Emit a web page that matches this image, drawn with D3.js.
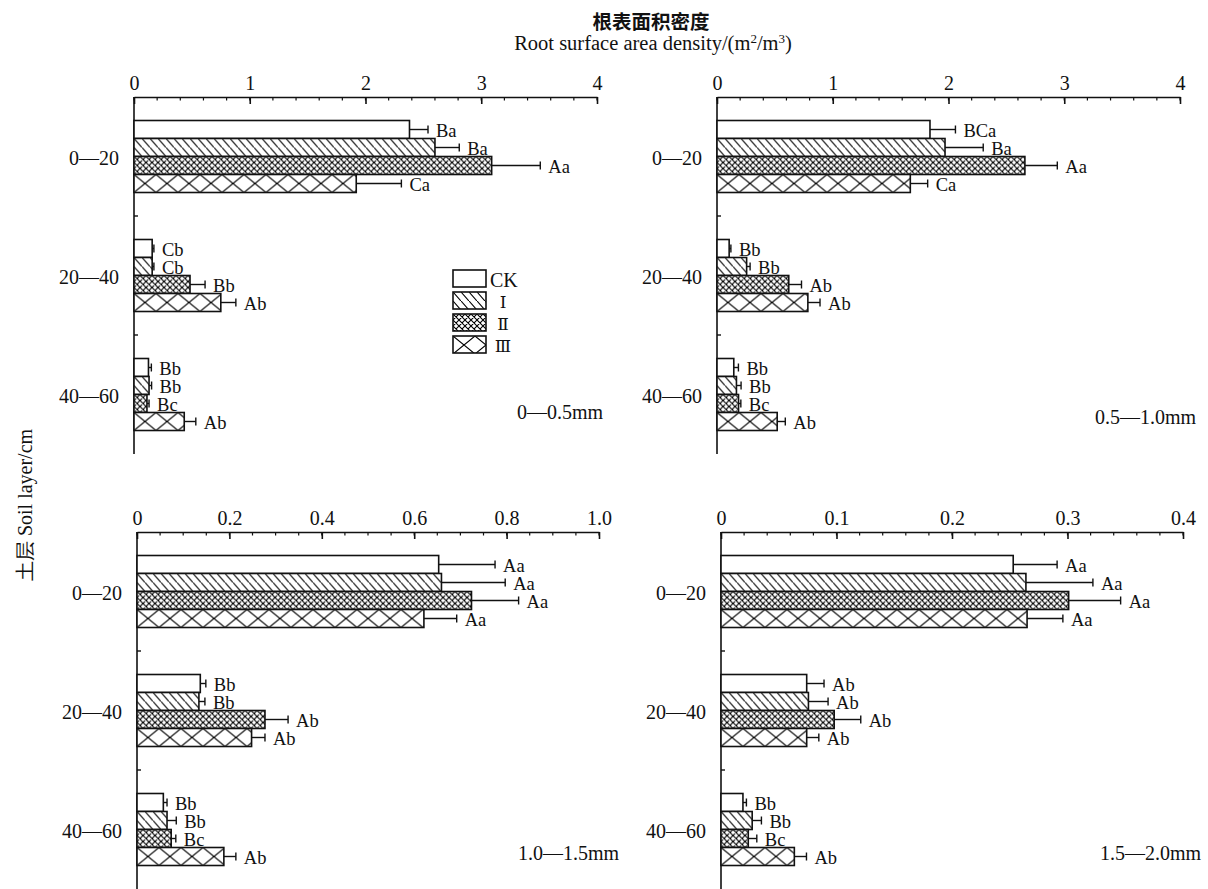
<!DOCTYPE html>
<html><head><meta charset="utf-8">
<script src="https://cdn.jsdelivr.net/npm/d3@7/dist/d3.min.js"></script>
<style>body{margin:0;background:#fff}svg{display:block}</style>
</head><body>
<svg id="chart" width="1208" height="889"></svg>
<script>
// ---------- DATA ----------
const categories = ["0—20", "20—40", "40—60"];
const series = ["CK", "Ⅰ", "Ⅱ", "Ⅲ"];
const panelTitles = ["0—0.5mm", "0.5—1.0mm", "1.0—1.5mm", "1.5—2.0mm"];

// panel 1: 0—0.5mm  (rows: CK, I, II, III ; cols: 0-20, 20-40, 40-60)
const values1 = [[2.38, 0.157, 0.125], [2.60, 0.157, 0.130], [3.09, 0.484, 0.112], [1.92, 0.750, 0.434]];
const errors1 = [[0.16, 0.015, 0.025], [0.21, 0.015, 0.022], [0.42, 0.130, 0.018], [0.39, 0.130, 0.100]];
const letters1 = [["Ba", "Cb", "Bb"], ["Ba", "Cb", "Bb"], ["Aa", "Bb", "Bc"], ["Ca", "Ab", "Ab"]];

// panel 2: 0.5—1.0mm
const values2 = [[1.84, 0.105, 0.145], [1.97, 0.256, 0.168], [2.66, 0.620, 0.186], [1.67, 0.785, 0.520]];
const errors2 = [[0.22, 0.015, 0.040], [0.33, 0.030, 0.040], [0.28, 0.110, 0.020], [0.15, 0.105, 0.070]];
const letters2 = [["BCa", "Bb", "Bb"], ["Ba", "Bb", "Bb"], ["Aa", "Ab", "Bc"], ["Ca", "Ab", "Ab"]];

// panel 3: 1.0—1.5mm
const values3 = [[0.653, 0.137, 0.057], [0.659, 0.134, 0.065], [0.724, 0.277, 0.074], [0.621, 0.248, 0.188]];
const errors3 = [[0.122, 0.012, 0.008], [0.138, 0.013, 0.020], [0.102, 0.050, 0.010], [0.071, 0.029, 0.026]];
const letters3 = [["Aa", "Bb", "Bb"], ["Aa", "Bb", "Bb"], ["Aa", "Ab", "Bc"], ["Aa", "Ab", "Ab"]];

// panel 4: 1.5—2.0mm
const values4 = [[0.253, 0.0742, 0.019], [0.264, 0.0757, 0.027], [0.301, 0.098, 0.0236], [0.265, 0.0742, 0.0635]];
const errors4 = [[0.038, 0.015, 0.003], [0.058, 0.017, 0.008], [0.045, 0.023, 0.0074], [0.031, 0.0105, 0.0105]];
const letters4 = [["Aa", "Ab", "Bb"], ["Aa", "Ab", "Bb"], ["Aa", "Ab", "Bc"], ["Aa", "Ab", "Ab"]];

// axis ticks
const ticks1 = [0, 1, 2, 3, 4], tickLabels1 = ["0", "1", "2", "3", "4"];
const ticks3 = [0, 0.2, 0.4, 0.6, 0.8, 1.0], tickLabels3 = ["0", "0.2", "0.4", "0.6", "0.8", "1.0"];
const ticks4 = [0, 0.1, 0.2, 0.3, 0.4], tickLabels4 = ["0", "0.1", "0.2", "0.3", "0.4"];

const titleCn = "根表面积密度";
const yTitle = "土层 Soil layer/cm";

// ---------- LAYOUT ----------
const panels = [
  {vals: values1, errs: errors1, lets: letters1, ticks: ticks1, labels: tickLabels1, minor: 0.2, max: 4,
   x0: 134, x1: 597, y0: 97, y1: 454, tagX: 603, tagY: 412, legend: true},
  {vals: values2, errs: errors2, lets: letters2, ticks: ticks1, labels: tickLabels1, minor: 0.2, max: 4,
   x0: 717, x1: 1180, y0: 97, y1: 454, tagX: 1196, tagY: 417},
  {vals: values3, errs: errors3, lets: letters3, ticks: ticks3, labels: tickLabels3, minor: 0.05, max: 1.0,
   x0: 137, x1: 599, y0: 532, y1: 889, tagX: 619, tagY: 853},
  {vals: values4, errs: errors4, lets: letters4, ticks: ticks4, labels: tickLabels4, minor: 0.02, max: 0.4,
   x0: 721, x1: 1183, y0: 532, y1: 889, tagX: 1201, tagY: 853}
];

const serif = "'Liberation Serif','Times New Roman',serif";
const FS = 20;
const LFS = 18.5;
const svg = d3.select("#chart");
svg.append("rect").attr("width", 1208).attr("height", 889).attr("fill", "#fff");

// ---------- PATTERNS ----------
const defs = svg.append("defs");
const pats = [
  null,
  {id: "pI", w: 8, h: 9, d: "M-1,-1.125L9,10.125M7,-2L10,1.4M-2,7.9L1,11.3"},
  {id: "pII", w: 6, h: 6, d: "M-1,-1L7,7M7,-1L-1,7M5,-1L7,1M-1,5L1,7M-1,1L1,-1M5,7L7,5"},
  {id: "pIII", w: 22, h: 18, d: "M0,0L22,18M22,0L0,18"}
];
pats.forEach(p => {
  if (!p) return;
  const pt = defs.append("pattern").attr("id", p.id).attr("patternUnits", "userSpaceOnUse")
    .attr("width", p.w).attr("height", p.h);
  pt.append("rect").attr("width", p.w).attr("height", p.h).attr("fill", "#fff");
  pt.append("path").attr("d", p.d).attr("stroke", "#000").attr("stroke-width", 1.1).attr("fill", "none");
});
const fillFor = i => i === 0 ? "#fff" : `url(#${pats[i].id})`;

// ---------- TITLES ----------
svg.append("text").attr("x", 651).attr("y", 20).attr("text-anchor", "middle").attr("dominant-baseline", "central")
  .attr("font-family", "'Noto Sans CJK SC',sans-serif").attr("font-size", 19.5).attr("font-weight", 600)
  .attr("fill", "#111").text(titleCn);
const sub = svg.append("text").attr("x", 653).attr("y", 50).attr("text-anchor", "middle")
  .attr("font-family", serif).attr("font-size", FS + 0.5).attr("fill", "#111");
sub.append("tspan").text("Root surface area density/(m");
sub.append("tspan").attr("baseline-shift", "super").attr("font-size", 13).text("2");
sub.append("tspan").text("/m");
sub.append("tspan").attr("baseline-shift", "super").attr("font-size", 13).text("3");
sub.append("tspan").text(")");

svg.append("text").attr("transform", "translate(25,505) rotate(-90)").attr("text-anchor", "middle")
  .attr("dominant-baseline", "central").attr("font-family", serif).attr("font-size", FS).attr("fill", "#111")
  .text(yTitle);

// ---------- PANELS ----------
panels.forEach((P, pi) => {
  const g = svg.append("g");
  const x = d3.scaleLinear().domain([0, P.max]).range([P.x0, P.x1]);
  const yb = d3.scaleBand().domain(categories).range([P.y0, P.y1]);
  const groupH = 72;
  const ys = d3.scaleBand().domain(series).range([0, groupH]);

  // top axis
  const ax = d3.axisTop(x).tickValues(P.ticks).tickFormat((d, i) => P.labels[i])
    .tickSizeInner(-7).tickSizeOuter(0).tickPadding(7);
  const axg = g.append("g").attr("transform", `translate(0,${P.y0})`).call(ax);
  axg.select(".domain").attr("stroke", "#111").attr("stroke-width", 1.6);
  axg.selectAll(".tick line").attr("stroke", "#111").attr("stroke-width", 1.6);
  axg.selectAll(".tick text").attr("font-family", serif).attr("font-size", FS).attr("fill", "#111");
  // minor ticks
  const minors = d3.range(0, P.max + 1e-9, P.max / Math.round(P.max / P.minor));
  g.append("g").selectAll("line").data(minors).join("line")
    .attr("x1", d => x(d)).attr("x2", d => x(d)).attr("y1", P.y0).attr("y2", P.y0 + 3.5)
    .attr("stroke", "#111").attr("stroke-width", 1.2);

  // left axis
  g.append("line").attr("x1", P.x0).attr("x2", P.x0).attr("y1", P.y0).attr("y2", P.y1)
    .attr("stroke", "#111").attr("stroke-width", 1.6);
  g.append("g").selectAll("line").data(categories.slice(1)).join("line")
    .attr("x1", P.x0).attr("x2", P.x0 + 4).attr("y1", d => yb(d)).attr("y2", d => yb(d))
    .attr("stroke", "#111").attr("stroke-width", 1.4);
  g.append("g").selectAll("text").data(categories).join("text")
    .attr("x", P.x0 - 15).attr("y", d => yb(d) + yb.bandwidth() / 2 + 1)
    .attr("text-anchor", "end").attr("dominant-baseline", "central")
    .attr("font-family", serif).attr("font-size", FS).attr("fill", "#111").text(d => d);

  // bars
  categories.forEach((cat, ci) => {
    const gy = yb(cat) + yb.bandwidth() / 2 - groupH / 2;
    series.forEach((s, si) => {
      const v = P.vals[si][ci], e = P.errs[si][ci], lab = P.lets[si][ci];
      const by = gy + ys(s), bh = ys.bandwidth();
      const cy = by + bh / 2;
      // error bar
      g.append("line").attr("x1", x(v)).attr("x2", x(v + e)).attr("y1", cy).attr("y2", cy)
        .attr("stroke", "#111").attr("stroke-width", 1.4);
      g.append("line").attr("x1", x(v + e)).attr("x2", x(v + e)).attr("y1", cy - 4).attr("y2", cy + 4)
        .attr("stroke", "#111").attr("stroke-width", 1.4);
      const bg = g.append("g").attr("transform", `translate(${x(0)},${by})`);
      bg.append("rect").attr("x", 0).attr("y", 0).attr("width", x(v) - x(0)).attr("height", bh)
        .attr("fill", fillFor(si)).attr("stroke", "#111").attr("stroke-width", 1.6);
      g.append("text").attr("x", x(v + e) + 8).attr("y", cy + 1.5).attr("dominant-baseline", "central")
        .attr("font-family", serif).attr("font-size", LFS).attr("fill", "#111").text(lab);
    });
  });

  // panel tag
  g.append("text").attr("x", P.tagX).attr("y", P.tagY).attr("text-anchor", "end").attr("dominant-baseline", "central")
    .attr("font-family", serif).attr("font-size", FS).attr("fill", "#111").text(panelTitles[pi]);

  // legend
  if (P.legend) {
    const lg = g.append("g");
    series.forEach((s, si) => {
      const ly = 270 + si * 22;
      const b = lg.append("g").attr("transform", `translate(453,${ly})`);
      b.append("rect").attr("width", 33).attr("height", 17).attr("fill", fillFor(si))
        .attr("stroke", "#111").attr("stroke-width", 1.6);
      lg.append("text").attr("x", si === 0 ? 490 : 503).attr("y", ly + 9.5).attr("dominant-baseline", "central")
        .attr("text-anchor", si === 0 ? "start" : "middle")
        .attr("font-family", si === 0 ? serif : "'DejaVu Serif','Liberation Serif',serif")
        .attr("font-size", si === 0 ? FS : 17).attr("fill", "#111").text(s);
    });
  }
});
</script>
</body></html>
